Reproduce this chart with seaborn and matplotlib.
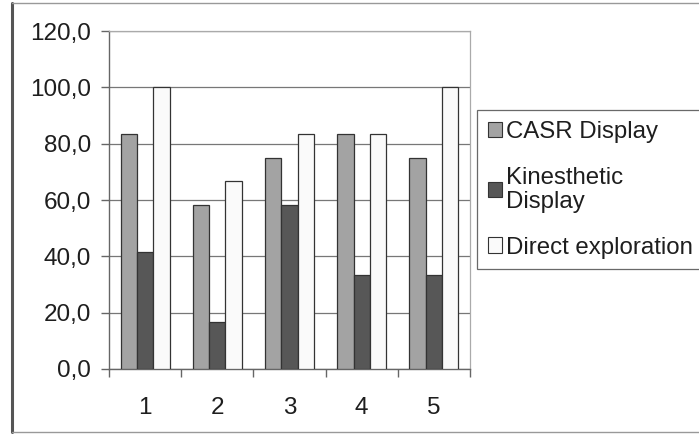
import matplotlib
matplotlib.use("Agg")
import matplotlib.pyplot as plt
from matplotlib.lines import Line2D
from matplotlib.patches import Patch
from matplotlib.ticker import FuncFormatter, FixedLocator
import seaborn as sns
import pandas as pd

# Scores per task for each display condition
tasks = ["1", "2", "3", "4", "5"]
casr_display = [83.3, 58.3, 75.0, 83.3, 75.0]
kinesthetic_display = [41.7, 16.7, 58.3, 33.3, 33.3]
direct_exploration = [100.0, 66.7, 83.3, 83.3, 100.0]
series_names = ["CASR Display", "Kinesthetic\nDisplay", "Direct exploration"]
y_ticks = [0, 20, 40, 60, 80, 100, 120]

colors = ["#a3a3a3", "#575757", "#fafafa"]

df = pd.DataFrame({
    "task": tasks * 3,
    "value": casr_display + kinesthetic_display + direct_exploration,
    "series": [series_names[0]] * 5 + [series_names[1]] * 5 + [series_names[2]] * 5,
})

sns.set_style("white")
plt.rcParams["font.family"] = ["Liberation Sans", "DejaVu Sans"]

fig = plt.figure(figsize=(6.99, 4.34), dpi=100)
ax = fig.add_axes([109 / 699, 65 / 434, 361 / 699, 338 / 434])

sns.barplot(data=df, x="task", y="value", hue="series", order=tasks,
            hue_order=series_names, palette=colors, width=0.68,
            edgecolor="#333333", linewidth=0.9, saturation=1,
            legend=False, ax=ax, zorder=3)

ax.set_xlim(-0.5, 4.5)
ax.set_ylim(0, 120)
ax.set_yticks(y_ticks)
ax.yaxis.set_major_formatter(FuncFormatter(lambda v, p: f"{v:.1f}".replace(".", ",")))
ax.grid(axis="y", color="#777777", linewidth=0.9, zorder=0)
ax.set_axisbelow(True)
ax.set_xlabel("")
ax.set_ylabel("")

# labels at the category centers, tick marks on the category boundaries
ax.tick_params(axis="x", which="major", length=0, pad=20, labelsize=17.5)
ax.xaxis.set_minor_locator(FixedLocator([-0.5, 0.5, 1.5, 2.5, 3.5, 4.5]))
ax.tick_params(axis="x", which="minor", length=6, width=1, color="#666666", direction="out", bottom=True)
ax.tick_params(axis="y", length=6, width=1, color="#666666", direction="out", left=True,
               labelsize=17.5, pad=7)
for lab in ax.get_yticklabels() + ax.get_xticklabels():
    lab.set_color("#1e1e1e")

for side in ["top", "right"]:
    ax.spines[side].set_color("#aaaaaa")
    ax.spines[side].set_linewidth(0.9)
ax.spines["left"].set_color("#666666")
ax.spines["bottom"].set_color("#666666")
ax.spines["left"].set_linewidth(1.0)
ax.spines["bottom"].set_linewidth(1.0)

handles = [Patch(facecolor=c, edgecolor="#333333", linewidth=0.8) for c in colors]
leg = fig.legend(handles, series_names, loc="upper left",
                 bbox_to_anchor=(477 / 699, 1 - 110 / 434),
                 fontsize=17.3, frameon=True, fancybox=False,
                 edgecolor="#444444", handlelength=0.6, handleheight=0.6,
                 handletextpad=0.15, labelspacing=1.0, borderpad=0.45,
                 borderaxespad=0)
leg.get_frame().set_linewidth(0.9)
for t in leg.get_texts():
    t.set_color("#1e1e1e")
    t.set_linespacing(1.1)

# outer frame of the chart area
fig.add_artist(Line2D([12 / 699, 12 / 699], [2 / 434, 1 - 3 / 434], color="#555555", linewidth=2.2))
fig.add_artist(Line2D([12 / 699, 1.0], [1 - 3 / 434, 1 - 3 / 434], color="#999999", linewidth=1.0))
fig.add_artist(Line2D([12 / 699, 1.0], [2 / 434, 2 / 434], color="#999999", linewidth=1.0))

fig.savefig("out.png", dpi=100)
